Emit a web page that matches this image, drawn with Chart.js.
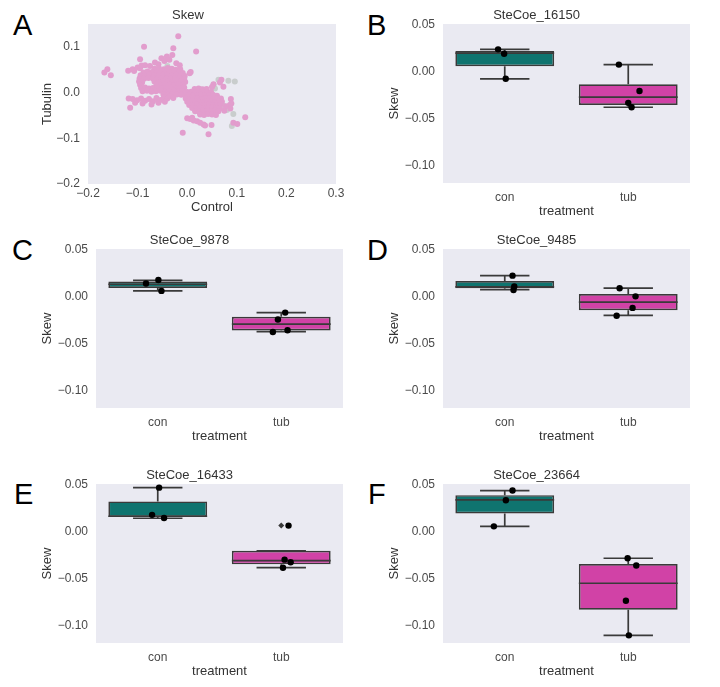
<!DOCTYPE html>
<html><head><meta charset="utf-8">
<script src="https://cdn.jsdelivr.net/npm/chart.js@4.4.1/dist/chart.umd.min.js"></script>
<style>
html,body{margin:0;padding:0;background:#fff;}
body{width:720px;height:687px;position:relative;overflow:hidden;font-family:"Liberation Sans",Arial,sans-serif;}
canvas{position:absolute;}
.lbl{position:absolute;font-size:29px;line-height:28px;color:#000;}
</style></head><body>
<div class="lbl" style="left:13px;top:11px">A</div>
<div class="lbl" style="left:367px;top:11px">B</div>
<div class="lbl" style="left:12px;top:236px">C</div>
<div class="lbl" style="left:367px;top:236px">D</div>
<div class="lbl" style="left:14px;top:480px">E</div>
<div class="lbl" style="left:368px;top:480px">F</div>
<canvas id="cA" width="310" height="210" style="left:40px;top:5px"></canvas>
<canvas id="cB" width="311" height="214" style="left:383px;top:5px"></canvas>
<canvas id="cC" width="311" height="214" style="left:36px;top:230px"></canvas>
<canvas id="cD" width="311" height="214" style="left:383px;top:230px"></canvas>
<canvas id="cE" width="311" height="214" style="left:36px;top:465px"></canvas>
<canvas id="cF" width="311" height="214" style="left:383px;top:465px"></canvas>
<script>
// ---------- Panel A data (Skew: Control vs Tubulin) ----------
const aTitle = 'Skew';
const aXTicks = [-0.2, -0.1, 0.0, 0.1, 0.2, 0.3];
const aXTickLabels = ['\u22120.2', '\u22120.1', '0.0', '0.1', '0.2', '0.3'];
const aYTicks = [-0.2, -0.1, 0.0, 0.1];
const aYTickLabels = ['\u22120.2', '\u22120.1', '0.0', '0.1'];
const aXRange = [-0.2, 0.3];
const aYRange = [-0.2, 0.15];
const pinkPoints = [
 [-0.018,0.123],[-0.087,0.100],[0.018,0.090],[-0.028,0.097],[-0.030,0.082],
 [-0.161,0.051],[-0.167,0.044],[-0.154,0.038],
 [-0.119,0.048],[-0.110,0.051],[-0.107,0.047],[-0.100,0.055],[-0.095,0.053],[-0.092,0.059],[-0.085,0.060],[-0.095,0.073],
 [-0.075,0.058],[-0.065,0.066],[-0.058,0.062],[-0.052,0.075],[-0.046,0.069],[-0.041,0.079],[-0.036,0.072],[-0.022,0.064],[-0.015,0.060],[0.005,0.042],[0.007,0.045],
 [-0.066,0.052],[-0.057,0.053],[-0.047,0.051],[-0.039,0.054],[-0.031,0.052],[-0.023,0.050],[-0.014,0.051],
 [-0.088,0.044],[-0.080,0.046],[-0.071,0.045],[-0.062,0.044],[-0.053,0.046],[-0.044,0.045],[-0.035,0.044],[-0.026,0.046],[-0.017,0.045],[-0.009,0.043],
 [-0.094,0.038],[-0.085,0.037],[-0.076,0.039],[-0.067,0.038],[-0.058,0.037],[-0.049,0.039],[-0.040,0.038],[-0.031,0.037],[-0.022,0.039],[-0.013,0.038],[-0.005,0.036],
 [-0.096,0.031],[-0.087,0.030],[-0.078,0.032],[-0.069,0.031],[-0.060,0.030],[-0.051,0.032],[-0.042,0.031],[-0.033,0.030],[-0.024,0.032],[-0.015,0.031],[-0.006,0.030],
 [-0.097,0.024],[-0.091,0.022],[-0.066,0.024],[-0.057,0.023],[-0.048,0.025],[-0.039,0.024],[-0.030,0.023],[-0.021,0.025],[-0.012,0.024],[-0.004,0.023],
 [-0.095,0.017],[-0.062,0.017],[-0.053,0.016],[-0.044,0.018],[-0.035,0.017],[-0.026,0.016],[-0.017,0.018],[-0.008,0.017],
 [-0.093,0.010],[-0.085,0.011],[-0.077,0.009],[-0.069,0.010],[-0.060,0.011],[-0.051,0.009],[-0.042,0.010],[-0.033,0.011],[-0.024,0.009],[-0.015,0.010],[-0.006,0.011],
 [-0.090,0.003],[-0.081,0.004],[-0.072,0.002],[-0.063,0.003],[-0.054,0.004],[-0.045,0.002],[-0.036,0.003],[-0.027,0.004],[-0.018,0.002],[-0.010,0.003],
 [-0.048,-0.004],[-0.039,-0.005],[-0.030,-0.003],[-0.021,-0.004],[-0.012,-0.005],
 [-0.118,-0.013],[-0.110,-0.014],[-0.101,-0.017],[-0.093,-0.013],[-0.085,-0.018],[-0.077,-0.014],[-0.069,-0.019],[-0.062,-0.012],[-0.054,-0.016],[-0.047,-0.011],[-0.040,-0.013],[-0.034,-0.008],
 [-0.115,-0.033],[-0.105,-0.022],[-0.090,-0.024],[-0.072,-0.026],[-0.058,-0.022],[-0.045,-0.020],[-0.028,-0.012],
 [0.015,0.008],[0.023,0.009],[0.031,0.007],[0.039,0.008],
 [0.000,0.001],[0.008,0.002],[0.016,0.000],[0.024,0.001],[0.032,0.002],[0.040,0.000],[0.048,0.001],
 [-0.004,-0.006],[0.004,-0.005],[0.012,-0.007],[0.020,-0.006],[0.028,-0.005],[0.036,-0.007],[0.044,-0.006],[0.052,-0.005],[0.060,-0.007],
 [-0.003,-0.013],[0.005,-0.014],[0.013,-0.012],[0.021,-0.013],[0.029,-0.014],[0.037,-0.012],[0.045,-0.013],[0.053,-0.014],[0.061,-0.012],[0.068,-0.013],
 [0.000,-0.020],[0.008,-0.021],[0.016,-0.019],[0.024,-0.020],[0.032,-0.021],[0.040,-0.019],[0.048,-0.020],[0.056,-0.021],[0.064,-0.019],[0.070,-0.020],
 [0.004,-0.027],[0.012,-0.028],[0.020,-0.026],[0.028,-0.027],[0.036,-0.028],[0.044,-0.026],[0.052,-0.027],[0.060,-0.028],[0.067,-0.026],
 [0.010,-0.034],[0.018,-0.035],[0.026,-0.033],[0.034,-0.034],[0.042,-0.035],[0.050,-0.033],[0.058,-0.034],[0.066,-0.035],
 [0.016,-0.041],[0.024,-0.042],[0.032,-0.040],[0.040,-0.041],[0.048,-0.042],[0.056,-0.040],[0.063,-0.041],
 [0.026,-0.048],[0.034,-0.049],[0.042,-0.047],[0.050,-0.048],[0.058,-0.049],
 [0.000,-0.056],[0.006,-0.058],[0.013,-0.061],[0.020,-0.063],[0.026,-0.066],[0.033,-0.070],[0.036,-0.072],[0.049,-0.071],[0.010,-0.055],
 [-0.009,-0.088],[0.043,-0.091],
 [0.053,0.018],[0.069,0.028],[0.073,0.013],[0.050,0.012],[0.066,0.022],
 [0.088,-0.014],[0.089,-0.024],[0.087,-0.035],[0.086,-0.027],[0.078,-0.030],[0.075,-0.040],
 [0.117,-0.054],[0.093,-0.066],[0.101,-0.069]
];
const greyPoints = [
 [0.063,0.028],[0.083,0.026],[0.096,0.024],[0.053,0.017],[0.026,0.007],[0.033,0.002],[0.039,-0.004],
 [0.080,-0.038],[0.093,-0.047],[0.090,-0.073],[0.073,-0.029],[0.056,0.009],[0.063,-0.023],[-0.040,0.058],[0.046,-0.002]
];

// ---------- Panels B-F data (box plots by treatment) ----------
const panelTitles = ['SteCoe_16150', 'SteCoe_9878', 'SteCoe_9485', 'SteCoe_16433', 'SteCoe_23664'];
const categories = ['con', 'tub'];
const boxYTicks = [-0.10, -0.05, 0.00, 0.05];
const boxYTickLabels = ['\u22120.10', '\u22120.05', '0.00', '0.05'];
const boxYRange = [-0.119, 0.051];
// per panel: [con, tub]
const whiskerLow  = [[-0.0076,-0.0380],[0.0062,-0.0373],[0.0076,-0.0199],[0.0144,-0.0385],[0.0057,-0.1108]];
const quart1      = [[ 0.0058,-0.0355],[0.0094,-0.0362],[0.0091,-0.0145],[0.0158,-0.0349],[0.0195,-0.0835]];
const medians     = [[ 0.0199,-0.0272],[0.0133,-0.0293],[0.0105,-0.0058],[0.0165,-0.0309],[0.0341,-0.0551]];
const quart3      = [[ 0.0221,-0.0134],[0.0163,-0.0214],[0.0167, 0.0029],[0.0324,-0.0205],[0.0391,-0.0345]];
const whiskerHigh = [[ 0.0239, 0.0076],[0.0174,-0.0170],[0.0225, 0.0091],[0.0471,-0.0205],[0.0440,-0.0284]];
// individual samples (strip points) and their horizontal jitter
const stripCon = [[0.0239,0.0192,-0.0076],[0.0141,0.0178,0.0062],[0.0225,0.0109,0.0072],[0.0471,0.0180,0.0147],[0.0440,0.0337,0.0057]];
const jitterCon = [[-0.054,-0.005,0.008],[-0.095,0.005,0.030],[0.063,0.077,0.071],[0.011,-0.046,0.051],[0.063,0.009,-0.088]];
const stripTub = [[0.0076,-0.0207,-0.0333,-0.0380],[-0.0170,-0.0243,-0.0377,-0.0359],[0.0091,0.0004,-0.0120,-0.0203],[0.0065,-0.0299,-0.0327,-0.0385],[-0.0284,-0.0362,-0.0739,-0.1108]];
const jitterTub = [[-0.076,0.091,0.000,0.027],[0.032,-0.027,-0.068,0.051],[-0.070,0.059,0.035,-0.094],[0.059,0.027,0.076,0.014],[-0.005,0.065,-0.019,0.005]];
const fliersTub = [[], [], [], [0.0065], []];

// ---------- styling ----------
const BG = '#EAEAF2';
const TICK_COLOR = '#4a4a4a';
const TEXT_COLOR = '#333333';
const BOX_COLORS = ['#0F746F', '#D142A6'];
const EDGE = '#3a3a3a';
const PINK = '#E29DCD';
const GREY = '#C9CDCD';
Chart.defaults.font.family = '"Liberation Sans", Arial, sans-serif';

const plotBg = {
  id: 'plotBg',
  beforeDraw(chart) {
    const {ctx, chartArea: a} = chart;
    ctx.save();
    ctx.fillStyle = BG;
    ctx.fillRect(a.left, a.top, a.right - a.left, a.bottom - a.top);
    ctx.restore();
  }
};

function baseOpts(title, padRight) {
  return {
    responsive: false, animation: false, devicePixelRatio: 1, events: [],
    layout: {padding: {left: 0, right: padRight, top: 0, bottom: 0}},
    plugins: {
      legend: {display: false}, tooltip: {enabled: false},
      title: {display: true, text: title, color: TEXT_COLOR, font: {size: 13, weight: 'normal'}, padding: {top: 2.4, bottom: 1}}
    }
  };
}

function axis(opts) {
  return Object.assign({
    type: 'linear', offset: false,
    grid: {display: false, drawTicks: false},
    border: {display: false}
  }, opts);
}

// ---------- Panel A ----------
(function () {
  const o = baseOpts(aTitle, 14);
  o.scales = {
    x: axis({
      min: aXRange[0], max: aXRange[1],
      afterBuildTicks: s => { s.ticks = aXTicks.map(v => ({value: v})); },
      afterFit: s => { s.height = 31; },
      ticks: {color: TICK_COLOR, font: {size: 12}, padding: 2, autoSkip: false, maxRotation: 0,
              callback: (v, i) => aXTickLabels[i]},
      title: {display: true, text: 'Control', color: TEXT_COLOR, font: {size: 13}, padding: {top: 0, bottom: 0}}
    }),
    y: axis({
      min: aYRange[0], max: aYRange[1],
      afterBuildTicks: s => { s.ticks = aYTicks.map(v => ({value: v})); },
      afterFit: s => { s.width = 48; },
      ticks: {color: TICK_COLOR, font: {size: 12}, padding: 8, callback: (v, i) => aYTickLabels[i]},
      title: {display: true, text: 'Tubulin', color: TEXT_COLOR, font: {size: 13}, padding: {top: 0, bottom: 0}}
    })
  };
  new Chart(document.getElementById('cA'), {
    type: 'scatter',
    data: {datasets: [
      {data: pinkPoints.map(p => ({x: p[0], y: p[1]})), pointRadius: 3, pointBackgroundColor: PINK, pointBorderWidth: 0, order: 0},
      {data: greyPoints.map(p => ({x: p[0], y: p[1]})), pointRadius: 3, pointBackgroundColor: GREY, pointBorderWidth: 0, order: 1}
    ]},
    options: o,
    plugins: [plotBg]
  });
})();

// ---------- Panels B-F ----------
function boxChart(canvasId, p) {
  const bars = categories.map((c, i) => ({x: i, y: [quart1[p][i], quart3[p][i]]}));
  const segs = [];
  const gap = i => ({x: i, y: null});
  categories.forEach((c, i) => {
    const hw = 0.4, cw = 0.2;
    segs.push({x: i - hw, y: medians[p][i]}, {x: i + hw, y: medians[p][i]}, gap(i));
    segs.push({x: i, y: quart1[p][i]}, {x: i, y: whiskerLow[p][i]}, gap(i));
    segs.push({x: i - cw, y: whiskerLow[p][i]}, {x: i + cw, y: whiskerLow[p][i]}, gap(i));
    segs.push({x: i, y: quart3[p][i]}, {x: i, y: whiskerHigh[p][i]}, gap(i));
    segs.push({x: i - cw, y: whiskerHigh[p][i]}, {x: i + cw, y: whiskerHigh[p][i]}, gap(i));
  });
  const strip = stripCon[p].map((v, k) => ({x: 0 + jitterCon[p][k], y: v}))
    .concat(stripTub[p].map((v, k) => ({x: 1 + jitterTub[p][k], y: v})));
  const fl = fliersTub[p].map(v => ({x: 1, y: v}));

  const o = baseOpts(panelTitles[p], 4);
  o.scales = {
    x: axis({
      min: -0.5, max: 1.5,
      afterBuildTicks: s => { s.ticks = categories.map((c, i) => ({value: i})); },
      afterFit: s => { s.height = 36; },
      ticks: {color: TICK_COLOR, font: {size: 12}, padding: 7, autoSkip: false, maxRotation: 0,
              callback: (v, i) => categories[i]},
      title: {display: true, text: 'treatment', color: TEXT_COLOR, font: {size: 13}, padding: {top: 0, bottom: 0}}
    }),
    y: axis({
      min: boxYRange[0], max: boxYRange[1],
      afterBuildTicks: s => { s.ticks = boxYTicks.map(v => ({value: v})); },
      afterFit: s => { s.width = 60; },
      ticks: {color: TICK_COLOR, font: {size: 12}, padding: 8, callback: (v, i) => boxYTickLabels[i]},
      title: {display: true, text: 'Skew', color: TEXT_COLOR, font: {size: 13}, padding: {top: 4, bottom: 0}}
    })
  };
  new Chart(document.getElementById(canvasId), {
    type: 'bar',
    data: {datasets: [
      {type: 'line', data: strip, showLine: false, pointRadius: 3.2, pointBackgroundColor: '#000', pointBorderWidth: 0, order: 0},
      {type: 'line', data: fl, showLine: false, pointStyle: 'rectRot', pointRadius: 3, pointBackgroundColor: EDGE, pointBorderWidth: 0, order: 0},
      {type: 'line', data: segs, borderColor: EDGE, borderWidth: 1.7, pointRadius: 0, spanGaps: false, fill: false, order: 1},
      {type: 'bar', data: bars, backgroundColor: BOX_COLORS, borderColor: EDGE, borderWidth: 1.7, borderSkipped: false,
       barPercentage: 0.8, categoryPercentage: 1, order: 2}
    ]},
    options: o,
    plugins: [plotBg]
  });
}
['cB', 'cC', 'cD', 'cE', 'cF'].forEach((id, p) => boxChart(id, p));
</script>
</body></html>
